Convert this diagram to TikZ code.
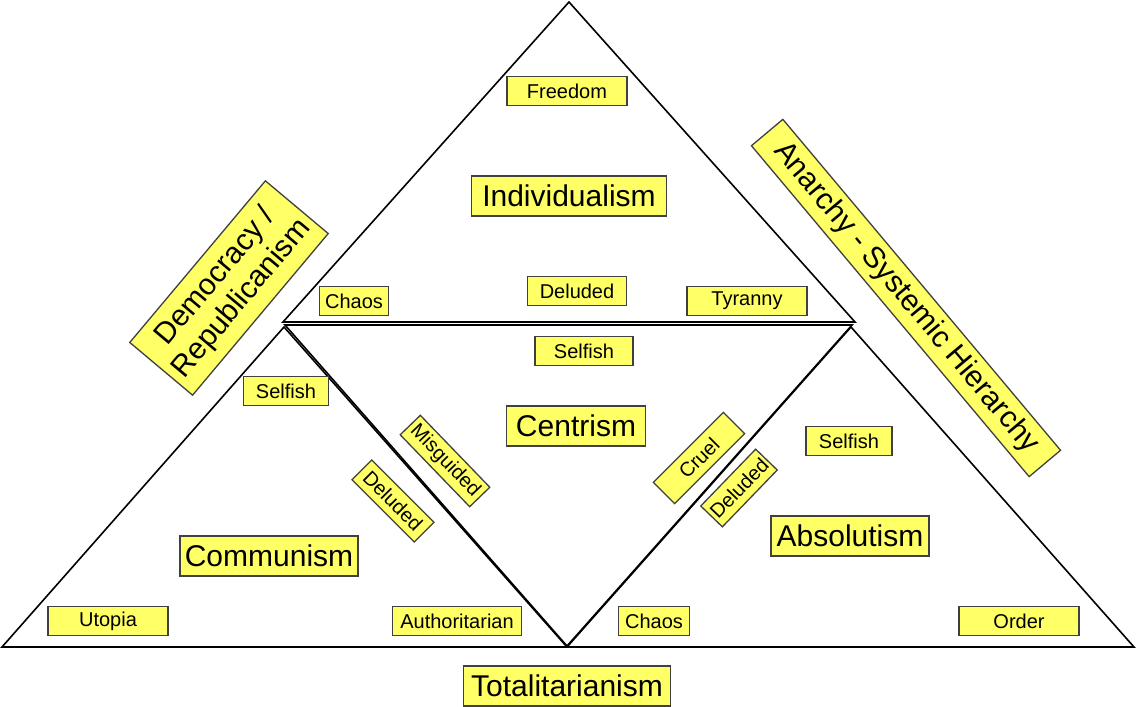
\documentclass[tikz,border=0pt]{standalone}
\usepackage{fontspec}
\setmainfont{Liberation Sans}
\definecolor{lbl}{RGB}{255,255,102}
\begin{document}
\begin{tikzpicture}[x=1pt,y=-1pt,
  lab/.style={draw=black!75,line width=1.3pt,fill=lbl,inner sep=0pt,minimum height=29pt,font=\fontsize{20}{22}\selectfont},
  big/.style={lab,minimum height=40pt,font=\fontsize{30}{34}\selectfont},
  edge/.style={line width=1.6pt,line join=miter}]
\useasboundingbox (0,0) rectangle (1136,707);
% vertices
\coordinate (T) at (569,2);
\coordinate (TL) at (283,322);
\coordinate (TR) at (855,322);
\coordinate (BLa) at (284,327);
\coordinate (BLl) at (2,647);
\coordinate (M) at (567,647);
\coordinate (BRa) at (851,327);
\coordinate (BRr) at (1134,647);
\coordinate (CL) at (285,325);
\coordinate (CR) at (852,325);
\coordinate (CM) at (567,646);
% triangles
\draw[edge] (T) -- (TL) -- (TR) -- cycle;
\draw[edge] (CL) -- (CR) -- (CM) -- cycle;
\draw[edge] (BLa) -- (BLl) -- (M) -- cycle;
\draw[edge] (BRa) -- (M) -- (BRr) -- cycle;
\draw[line width=2.6pt] (BLl) -- (BRr);
% labels
\node[lab,minimum width=120pt] (freedom) at (567,91) {Freedom};
\node[big,minimum width=195pt] (indiv) at (569,196) {Individualism};
\node[lab,minimum width=69pt] (chaos1) at (354,301) {Chaos};
\node[lab,minimum width=99pt] (del1) at (577,291) {Deluded};
\node[lab,minimum width=120pt] (tyr) at (747,301) {Tyranny};
\node[lab,minimum width=98pt] (self1) at (584,351) {Selfish};
\node[big,minimum width=139pt] (centr) at (576,426) {Centrism};
\node[lab,minimum width=85pt] (self2) at (286,391) {Selfish};
\node[lab,minimum width=100pt,minimum height=28pt,rotate=-46] (misg) at (445,461) {Misguided};
\node[lab,minimum width=88pt,minimum height=28pt,rotate=-45] (del2) at (393,501) {Deluded};
\node[big,minimum width=178pt] (comm) at (269,556) {Communism};
\node[lab,minimum width=120pt] (utop) at (108,621) {Utopia};
\node[lab,minimum width=129pt] (auth) at (457,621) {Authoritarian};
\node[lab,minimum width=71pt] (chaos2) at (654,621) {Chaos};
\node[lab,minimum width=120pt] (order) at (1019,621) {Order};
\node[big,minimum width=207pt] (total) at (567,686) {Totalitarianism};
\node[big,minimum width=158pt] (absol) at (850,536) {Absolutism};
\node[lab,minimum width=86pt] (self3) at (849,441) {Selfish};
\node[lab,minimum width=99pt,minimum height=30pt,rotate=45] (cruel) at (699,458) {Cruel};
\node[lab,minimum width=79pt,minimum height=30pt,rotate=46] (del3) at (739,488) {Deluded};
\node[big,minimum width=211pt,minimum height=82pt,align=center,rotate=50] (demo) at (229,288) {Democracy /\\Republicanism};
\node[big,minimum width=432pt,minimum height=41pt,rotate=-50] (anar) at (906,298) {Anarchy - Systemic Hierarchy};
\end{tikzpicture}
\end{document}
